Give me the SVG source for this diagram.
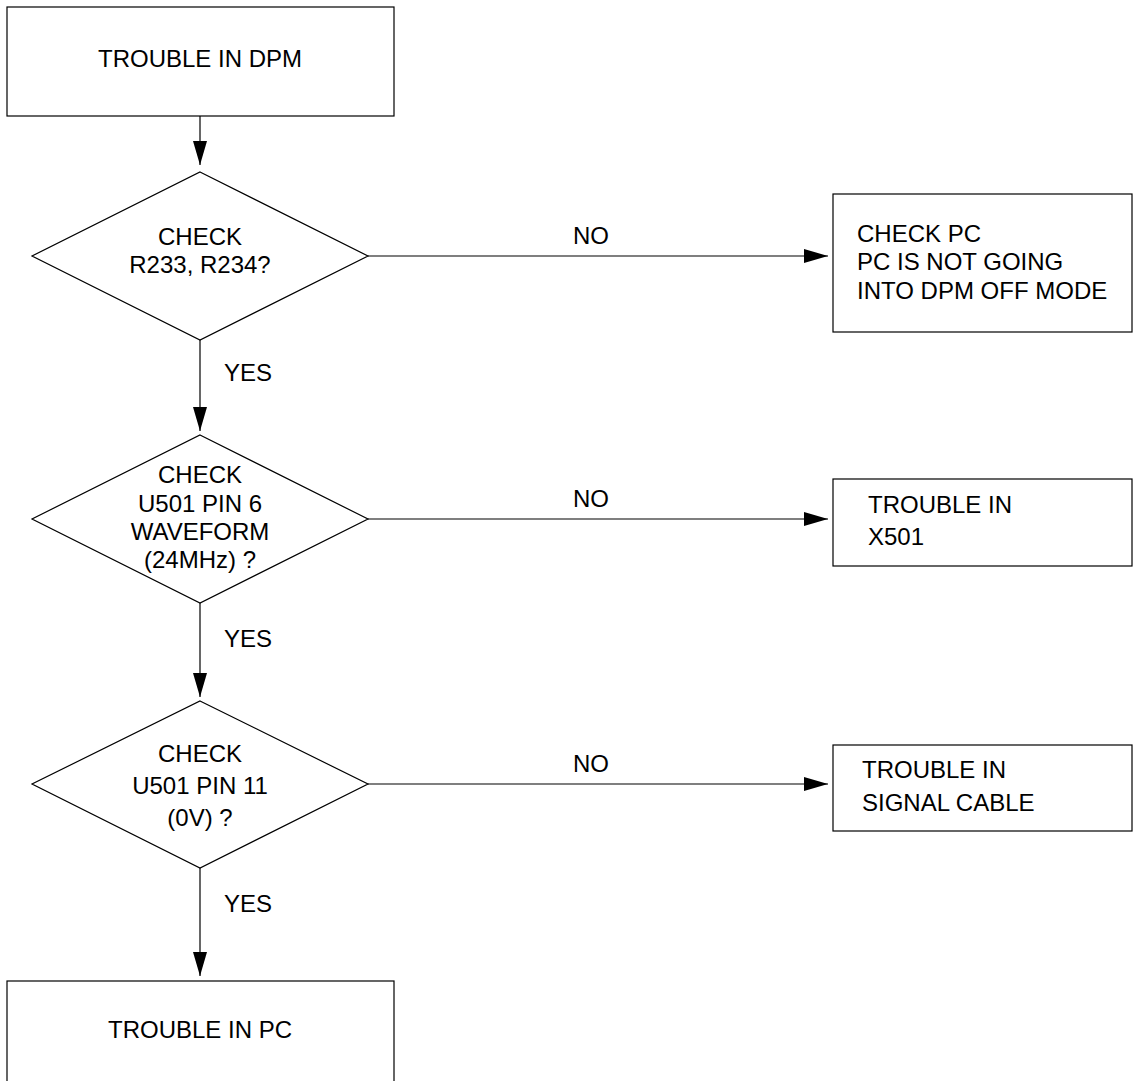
<svg xmlns="http://www.w3.org/2000/svg" width="1133" height="1081" viewBox="0 0 1133 1081">
<style>
.box{fill:#fff;stroke:#000;stroke-width:1.2}
.dia{fill:#fff;stroke:#000;stroke-width:1.2}
.t{font-family:"Liberation Sans",Arial,sans-serif;font-size:24px;fill:#000}
.c{text-anchor:middle}
.ln{stroke:#000;stroke-width:1.2;fill:none}
</style>
<defs>
<marker id="ah" markerUnits="userSpaceOnUse" markerWidth="24" markerHeight="14" viewBox="0 0 24 14" refX="24" refY="7" orient="auto">
<path d="M0,0 L24,7 L0,14 z" fill="#000"/>
</marker>
</defs>
<rect width="1133" height="1081" fill="#fff"/>
<g id="connectors">
<line class="ln" x1="200" y1="116" x2="200" y2="165" marker-end="url(#ah)"/>
<line class="ln" x1="368" y1="256" x2="828" y2="256" marker-end="url(#ah)"/>
<line class="ln" x1="200" y1="340" x2="200" y2="431" marker-end="url(#ah)"/>
<line class="ln" x1="368" y1="519" x2="828" y2="519" marker-end="url(#ah)"/>
<line class="ln" x1="200" y1="603" x2="200" y2="697" marker-end="url(#ah)"/>
<line class="ln" x1="368" y1="784" x2="828" y2="784" marker-end="url(#ah)"/>
<line class="ln" x1="200" y1="868" x2="200" y2="976" marker-end="url(#ah)"/>
<text class="t" x="573" y="244">NO</text>
<text class="t" x="573" y="507">NO</text>
<text class="t" x="573" y="772">NO</text>
<text class="t" x="224" y="381">YES</text>
<text class="t" x="224" y="647">YES</text>
<text class="t" x="224" y="912">YES</text>
</g>
<g id="start">
<rect class="box" x="7" y="7" width="387" height="109"/>
<text class="t c" x="200" y="67">TROUBLE IN DPM</text>
</g>
<g id="check1">
<polygon class="dia" points="200,172 368,256 200,340 32,256"/>
<text class="t c" x="200" y="245">CHECK</text>
<text class="t c" x="200" y="273">R233, R234?</text>
</g>
<g id="checkpc">
<rect class="box" x="833" y="194" width="299" height="138"/>
<text class="t" x="857" y="242">CHECK PC</text>
<text class="t" x="857" y="270">PC IS NOT GOING</text>
<text class="t" x="857" y="299">INTO DPM OFF MODE</text>
</g>
<g id="check2">
<polygon class="dia" points="200,435 368,519 200,603 32,519"/>
<text class="t c" x="200" y="483">CHECK</text>
<text class="t c" x="200" y="512">U501 PIN 6</text>
<text class="t c" x="200" y="540">WAVEFORM</text>
<text class="t c" x="200" y="568">(24MHz) ?</text>
</g>
<g id="x501">
<rect class="box" x="833" y="479" width="299" height="87"/>
<text class="t" x="868" y="513">TROUBLE IN</text>
<text class="t" x="868" y="545">X501</text>
</g>
<g id="check3">
<polygon class="dia" points="200,701 368,784 200,868 32,784"/>
<text class="t c" x="200" y="762">CHECK</text>
<text class="t c" x="200" y="794">U501 PIN 11</text>
<text class="t c" x="200" y="826">(0V) ?</text>
</g>
<g id="cable">
<rect class="box" x="833" y="745" width="299" height="86"/>
<text class="t" x="862" y="778">TROUBLE IN</text>
<text class="t" x="862" y="811">SIGNAL CABLE</text>
</g>
<g id="pc">
<rect class="box" x="7" y="981" width="387" height="120"/>
<text class="t c" x="200" y="1038">TROUBLE IN PC</text>
</g>
</svg>
